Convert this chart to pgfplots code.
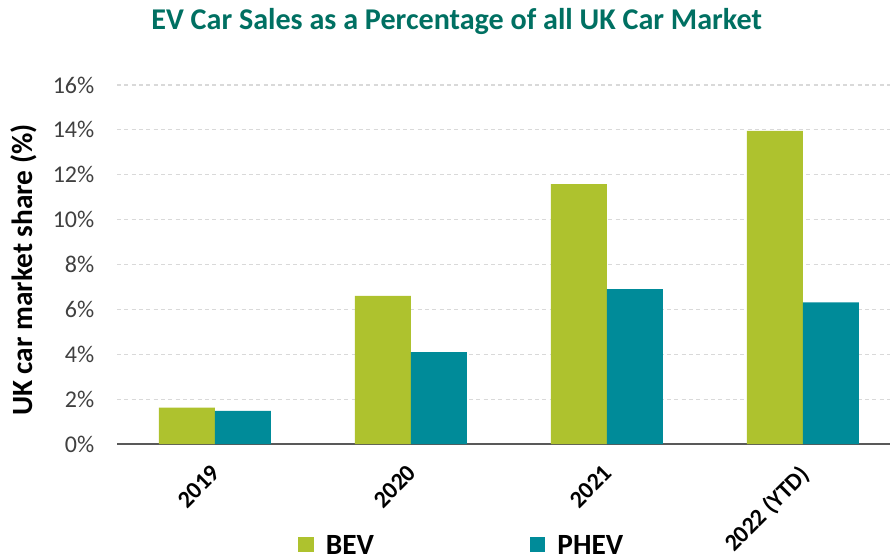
\documentclass[border=0pt]{standalone}
\usepackage{pgfplots}
\pgfplotsset{compat=1.18}
\usepackage{fontspec}
\setmainfont{Carlito}
\definecolor{bev}{RGB}{174,194,46}
\definecolor{phev}{RGB}{0,139,153}
\definecolor{titlec}{RGB}{0,112,98}
\definecolor{tickc}{RGB}{64,64,64}
\definecolor{gridc}{RGB}{217,217,217}
\definecolor{axisc}{RGB}{89,89,89}
\begin{document}
\begin{tikzpicture}
\useasboundingbox (0,0) rectangle (667.5pt,418.5pt);
\node[text=titlec, font=\fontsize{22.6}{26}\selectfont\bfseries] at (342.5pt,402.75pt) {EV Car Sales as a Percentage of all UK Car Market};
\node[rotate=90, font=\fontsize{22}{25}\selectfont\bfseries] at (18pt,216pt) {UK car market share (\%)};
\begin{axis}[
  at={(87.75pt,85.5pt)}, anchor=south west,
  scale only axis, width=579.75pt, height=269.25pt,
  ybar=0pt, bar width=42pt,
  xmin=-0.5, xmax=3.444, ymin=0, ymax=16,
  xtick={0,1,2,3}, xticklabels={2019,2020,2021,2022 (YTD)},
  ytick={0,2,...,16},
  yticklabel={\pgfmathprintnumber{\tick}\%},
  /pgf/number format/assume math mode=true,
  major tick length=0pt,
  axis x line*=bottom, axis y line*=left,
  y axis line style={draw=none},
  x axis line style={draw=axisc, line width=1.5pt, -},
  ymajorgrids, major grid style={gridc, line width=0.8pt, dash pattern=on 3pt off 2.5pt},
  yticklabel style={font=\fontsize{18}{20}\selectfont, text=tickc, xshift=-13.5pt},
  xticklabel style={font=\fontsize{18}{20}\selectfont\bfseries, anchor=north east, inner sep=1pt, xshift=-3.5pt, yshift=-13pt, rotate=45},
  legend columns=2,
  legend style={draw=none, fill=none, at={(0.4457,-0.28)}, anchor=center,
    font=\fontsize{22}{24}\selectfont\bfseries,
    nodes={inner sep=1pt, text depth=0pt},
    /tikz/every even column/.append style={column sep=116pt},
    /tikz/every odd column/.append style={column sep=8pt}},
  legend image code/.code={\fill[#1] (0pt,-5.8pt) rectangle (11.6pt,5.8pt);},
]
\addplot[fill=bev, draw=none] coordinates {(0,1.62) (1,6.6) (2,11.58) (3,13.95)};
\addplot[fill=phev, draw=none] coordinates {(0,1.48) (1,4.1) (2,6.9) (3,6.31)};
\legend{BEV,PHEV}
\end{axis}
\end{tikzpicture}
\end{document}
